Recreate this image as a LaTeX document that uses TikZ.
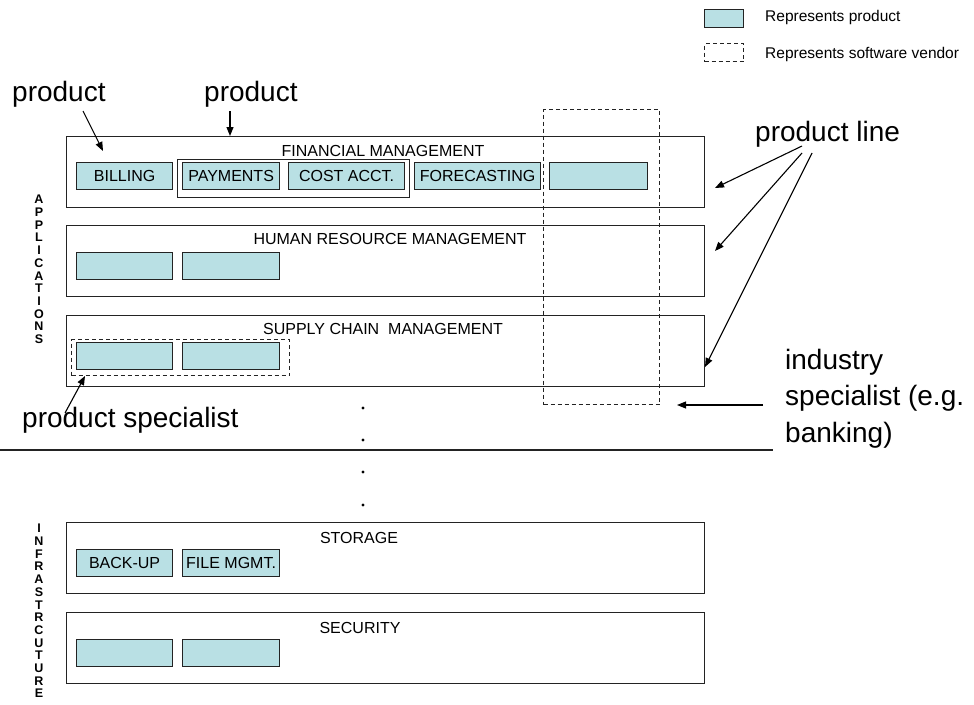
\documentclass[tikz,border=0pt]{standalone}
\usepackage{fontspec}
\setmainfont{Liberation Sans}
\usetikzlibrary{arrows.meta}
\definecolor{prodfill}{RGB}{185,224,228}
\definecolor{edge}{RGB}{35,35,35}
\begin{document}
\begin{tikzpicture}[x=1pt,y=-1pt,
  big/.style={font=\fontsize{28}{34}\selectfont, inner sep=0},
  prod/.style={draw=edge, line width=1.2pt, fill=prodfill, inner sep=0, anchor=north west, minimum height=27pt, font=\fontsize{16}{19}\selectfont},
  linebox/.style={draw=edge, line width=1.2pt, inner sep=0, anchor=north west, minimum width=638pt, minimum height=71pt},
  vend/.style={draw=edge, line width=1.1pt, dash pattern=on 4pt off 3pt, inner sep=0, anchor=north west},
  arr/.style={-{Triangle[length=9pt,width=7pt]}, line width=1.1pt},
  title/.style={font=\fontsize{16}{19}\selectfont, inner sep=0, anchor=base},
  vert/.style={font=\fontsize{12.5}{12.7}\selectfont\bfseries, align=center, inner sep=0, anchor=north},
  legtext/.style={font=\fontsize{15.5}{18}\selectfont, anchor=base west, inner sep=0}
]
\useasboundingbox (0,0) rectangle (974,704);

% legend
\node[prod, minimum width=39pt, minimum height=18pt] (lp) at (704,9) {};
\node[vend, minimum width=39pt, minimum height=18pt] (lv) at (704,43) {};
\node[legtext] (lpt) at (765,21) {Represents product};
\node[legtext] (lvt) at (765,58) {Represents software vendor};

% product lines
\node[linebox] (fin) at (66,136) {};
\node[linebox] (hr) at (66,225) {};
\node[linebox] (sup) at (66,315) {};
\node[linebox] (sto) at (66,522) {};
\node[linebox] (sec) at (66,612) {};

\node[title] (tfin) at (383,156) {FINANCIAL MANAGEMENT};
\node[title] (thr) at (390,244) {HUMAN RESOURCE MANAGEMENT};
\node[title] (tsup) at (383,334) {SUPPLY CHAIN~~MANAGEMENT};
\node[title] (tsto) at (359,543) {STORAGE};
\node[title] (tsec) at (360,633) {SECURITY};

% financial row
\node[draw=edge, line width=1.2pt, inner sep=0, anchor=north west, minimum width=232pt, minimum height=38pt] (grp) at (177,159) {};
\node[prod, minimum width=96pt] (bill) at (76,162) {BILLING};
\node[prod, minimum width=97pt] (pay) at (182,162) {PAYMENTS};
\node[prod, minimum width=116pt] (cost) at (288,162) {COST ACCT.};
\node[prod, minimum width=126pt] (fore) at (414,162) {FORECASTING};
\node[prod, minimum width=98pt] (blank) at (549,162) {};

% HR row
\node[prod, minimum width=96pt] (hr1) at (76,252) {};
\node[prod, minimum width=97pt] (hr2) at (182,252) {};

% supply row
\node[vend, minimum width=218pt, minimum height=36pt] (spec) at (71,339) {};
\node[prod, minimum width=96pt] (sc1) at (76,342) {};
\node[prod, minimum width=97pt] (sc2) at (182,342) {};

% storage row
\node[prod, minimum width=96pt] (bk) at (76,549) {BACK-UP};
\node[prod, minimum width=97pt] (fm) at (182,549) {FILE MGMT.};

% security row
\node[prod, minimum width=96pt] (se1) at (76,639) {};
\node[prod, minimum width=97pt] (se2) at (182,639) {};

% vendor
\node[vend, minimum width=116pt, minimum height=295pt] (vendor) at (543,109) {};

% vertical labels
\node[vert] (app) at (39,195) {A\\P\\P\\L\\I\\C\\A\\T\\I\\O\\N\\S};
\node[vert] (inf) at (39,524) {I\\N\\F\\R\\A\\S\\T\\R\\C\\U\\T\\U\\R\\E};

% big labels
\node[big, anchor=base west] (p1) at (12,101) {product};
\node[big, anchor=base west] (p2) at (204,101) {product};
\node[big, anchor=base west] (pl) at (755,141) {product line};
\node[big, anchor=base west] (ps) at (22,427) {product specialist};
\node[big, anchor=north west, align=left, font=\fontsize{28}{36.5}\selectfont] (ind) at (785,349) {industry\\specialist (e.g.\\banking)};

% separator and dots
\coordinate (sepL) at (0,450);
\coordinate (sepR) at (773,450);
\draw[draw=edge, line width=1.1pt] (sepL) -- (sepR);
\foreach \yy in {408,440,472,505} \fill (363,\yy) circle (1.7);

% arrows
\coordinate (a1s) at (83,111); \coordinate (a1e) at (103,151);
\coordinate (a2s) at (230,111); \coordinate (a2e) at (230,136);
\coordinate (l1s) at (802,146); \coordinate (l1e) at (715,188);
\coordinate (l2s) at (802,153); \coordinate (l2e) at (715,251);
\coordinate (l3s) at (812,153); \coordinate (l3e) at (705,367);
\coordinate (s1s) at (65,413); \coordinate (s1e) at (85,376);
\coordinate (i1s) at (763,405); \coordinate (i1e) at (677,405);
\draw[arr] (a1s) -- (a1e);
\draw[arr] (a2s) -- (a2e);
\draw[arr] (l1s) -- (l1e);
\draw[arr] (l2s) -- (l2e);
\draw[arr] (l3s) -- (l3e);
\draw[arr] (s1s) -- (s1e);
\draw[arr] (i1s) -- (i1e);
\end{tikzpicture}
\end{document}
